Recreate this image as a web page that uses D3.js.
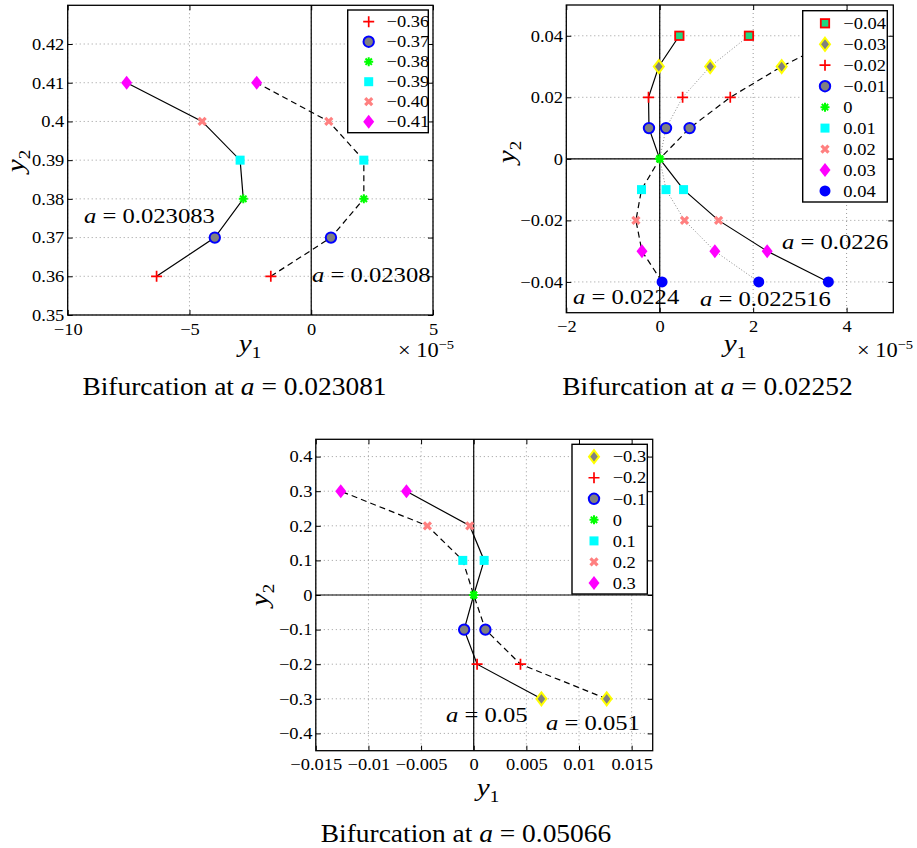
<!DOCTYPE html>
<html>
<head>
<meta charset="utf-8">
<script src="https://cdn.jsdelivr.net/npm/d3@7"></script>
<style>
body { margin: 0; background: #fff; }
text { font-family: "Liberation Serif", "Times New Roman", serif; fill: #000; }
</style>
</head>
<body>
<svg id="chart" width="917" height="848"></svg>
<script>
// ---- panel 1 : bifurcation at a = 0.023081 (y1 in units of 1e-5)
var p1Y = [0.36, 0.37, 0.38, 0.39, 0.40, 0.41];
var p1Names = ["−0.36", "−0.37", "−0.38", "−0.39", "−0.40", "−0.41"];
var p1Marks = ["plus", "circle", "star", "square", "cross", "diamond"];
var p1Solid = [-6.35, -3.96, -2.79, -2.92, -4.48, -7.58];   // a = 0.023083
var p1Dash  = [-1.66, 0.81, 2.16, 2.16, 0.72, -2.24];       // a = 0.02308
var p1XTicks = [-10, -5, 0, 5];
var p1YTicks = [0.35, 0.36, 0.37, 0.38, 0.39, 0.40, 0.41, 0.42];

// ---- panel 2 : bifurcation at a = 0.02252 (y1 in units of 1e-5)
var p2Y = [0.04, 0.03, 0.02, 0.01, 0, -0.01, -0.02, -0.03, -0.04];
var p2Names = ["−0.04", "−0.03", "−0.02", "−0.01", "0", "0.01", "0.02", "0.03", "0.04"];
var p2Marks = ["squareR", "diamondY", "plus", "circle", "star", "square", "cross", "diamond", "dot"];
var p2Solid  = [0.42, -0.02, -0.24, -0.23, 0, 0.51, 1.26, 2.30, 3.61];   // a = 0.0226
var p2Dotted = [1.91, 1.08, 0.49, 0.135, 0, 0.135, 0.53, 1.18, 2.12];   // a = 0.022516
var p2Dash   = [3.9, 2.61, 1.51, 0.64, 0, -0.39, -0.51, -0.38, 0.05];   // a = 0.0224
var p2XTicks = [-2, 0, 2, 4];
var p2YTicks = [-0.04, -0.02, 0, 0.02, 0.04];

// ---- panel 3 : bifurcation at a = 0.05066
var p3Y = [-0.3, -0.2, -0.1, 0, 0.1, 0.2, 0.3];
var p3Names = ["−0.3", "−0.2", "−0.1", "0", "0.1", "0.2", "0.3"];
var p3Marks = ["diamondY", "plus", "circle", "star", "square", "cross", "diamond"];
var p3Solid = [0.00643, 0.00032, -0.00091, 0, 0.00099, -0.00038, -0.00639];  // a = 0.05
var p3Dash  = [0.01263, 0.00444, 0.00111, 0, -0.00104, -0.0044, -0.01263];   // a = 0.051
var p3XTicks = [-0.015, -0.01, -0.005, 0, 0.005, 0.01, 0.015];
var p3YTicks = [-0.4, -0.3, -0.2, -0.1, 0, 0.1, 0.2, 0.3, 0.4];

var SX = 1.12; // the picture's text is a bit wider than the font
var svg = d3.select("#chart");

function mark(g, type, cx, cy) {
  var m = g.append("g").attr("transform", "translate(" + cx + "," + cy + ")");
  if (type == "plus") m.append("path").attr("d", "M-5.5,0H5.5M0,-5.5V5.5").attr("stroke", "#ff0000").attr("stroke-width", 1.7).attr("fill", "none");
  if (type == "circle") m.append("circle").attr("r", 5.2).attr("fill", "#808080").attr("stroke", "#0000ff").attr("stroke-width", 2);
  if (type == "dot") m.append("circle").attr("r", 5.5).attr("fill", "#0000ff");
  if (type == "star") m.append("path").attr("d", "M-4.5,0H4.5M0,-4.5V4.5M-3.2,-3.2L3.2,3.2M-3.2,3.2L3.2,-3.2").attr("stroke", "#00ff00").attr("stroke-width", 2).attr("fill", "none");
  if (type == "square") m.append("rect").attr("x", -4.5).attr("y", -4.5).attr("width", 9).attr("height", 9).attr("fill", "#00ffff");
  if (type == "squareR") m.append("rect").attr("x", -4.2).attr("y", -4.2).attr("width", 8.4).attr("height", 8.4).attr("fill", "#20d880").attr("stroke", "#ff0000").attr("stroke-width", 1.8);
  if (type == "cross") m.append("path").attr("d", "M-3.5,-3.5L3.5,3.5M-3.5,3.5L3.5,-3.5").attr("stroke", "#ff8080").attr("stroke-width", 3.2).attr("fill", "none");
  if (type == "diamond") m.append("path").attr("d", "M0,-7L5.5,0L0,7L-5.5,0Z").attr("fill", "#ff00ff");
  if (type == "diamondY") m.append("path").attr("d", "M0,-6.5L5,0L0,6.5L-5,0Z").attr("fill", "#808080").attr("stroke", "#ffff00").attr("stroke-width", 2);
}

function label(g, x, y, parts, size, anchor) {
  var t = g.append("text")
    .attr("transform", "translate(" + x + "," + y + ") scale(" + SX + ",1)")
    .attr("text-anchor", anchor || "start")
    .style("font-size", size + "px");
  parts.forEach(function (p) {
    t.append("tspan").text(p[0]).style("font-style", p[1] ? "italic" : null);
  });
  return t;
}

function axisLabel(g, x, y, sub, rotate) {
  var t = g.append("text")
    .attr("transform", "translate(" + x + "," + y + ")" + (rotate ? " rotate(-90)" : "") + " scale(" + SX + ",1)")
    .attr("text-anchor", "middle")
    .style("font-size", "26px");
  t.append("tspan").text("y").style("font-style", "italic");
  t.append("tspan").text(sub).attr("dy", 6).style("font-size", "17px");
}

function power(g, x, y) {
  var t = g.append("text")
    .attr("transform", "translate(" + x + "," + y + ") scale(" + SX + ",1)")
    .style("font-size", "20px");
  t.append("tspan").text("× 10");
  t.append("tspan").text("−5").attr("dy", -8).style("font-size", "13px");
}

function fixAxis(sel) {
  sel.select(".domain").remove();
  sel.selectAll("line").attr("stroke", "#000");
  sel.selectAll("text").style("font-size", "16.5px").attr("transform", "scale(" + SX + ",1)");
}

function panel(c) {
  var g = svg.append("g");
  var x = d3.scaleLinear().domain(c.xDom).range([c.l, c.r]);
  var y = d3.scaleLinear().domain(c.yDom).range([c.b, c.t]);

  // dotted grid
  g.append("g").selectAll("line").data(c.xTicks).join("line")
    .attr("x1", function (d) { return x(d); }).attr("x2", function (d) { return x(d); })
    .attr("y1", c.t).attr("y2", c.b)
    .attr("stroke", "#9a9a9a").attr("stroke-dasharray", "1,3");
  g.append("g").selectAll("line").data(c.yTicks).join("line")
    .attr("y1", function (d) { return y(d); }).attr("y2", function (d) { return y(d); })
    .attr("x1", c.l).attr("x2", c.r)
    .attr("stroke", "#9a9a9a").attr("stroke-dasharray", "1,3");

  // zero lines
  g.append("line").attr("x1", x(0)).attr("x2", x(0)).attr("y1", c.t).attr("y2", c.b).attr("stroke", "#000").attr("stroke-width", 1.2);
  if (c.zeroY) g.append("line").attr("y1", y(0)).attr("y2", y(0)).attr("x1", c.l).attr("x2", c.r).attr("stroke", "#000").attr("stroke-width", 1.2);

  var line = d3.line().x(function (d) { return x(d[0]); }).y(function (d) { return y(d[1]); });
  c.curves.forEach(function (s) {
    var pts = s.x.map(function (v, i) { return [v, c.yv[i]]; });
    g.append("path").attr("d", line(pts)).attr("fill", "none")
      .attr("stroke", s.color).attr("stroke-width", s.w).attr("stroke-dasharray", s.dash);
  });
  c.curves.forEach(function (s) {
    s.x.forEach(function (v, i) { mark(g, c.marks[i], x(v), y(c.yv[i])); });
  });

  c.notes.forEach(function (n) {
    label(g, n[0], n[1], [["a", true], [" = " + n[2], false]], 22);
  });

  // box and inward ticks on four sides
  g.append("rect").attr("x", c.l).attr("y", c.t).attr("width", c.r - c.l).attr("height", c.b - c.t)
    .attr("fill", "none").attr("stroke", "#000").attr("stroke-width", 1.3);
  var fmt = d3.format("~g");
  g.append("g").attr("transform", "translate(0," + c.b + ")")
    .call(d3.axisBottom(x).tickValues(c.xTicks).tickFormat(fmt).tickSizeInner(-5).tickSizeOuter(0).tickPadding(8)).call(fixAxis);
  g.append("g").attr("transform", "translate(0," + c.t + ")")
    .call(d3.axisTop(x).tickValues(c.xTicks).tickFormat("").tickSizeInner(-5).tickSizeOuter(0)).call(fixAxis);
  g.append("g").attr("transform", "translate(" + c.l + ",0)")
    .call(d3.axisLeft(y).tickValues(c.yTicks).tickFormat(fmt).tickSizeInner(-5).tickSizeOuter(0).tickPadding(3)).call(fixAxis);
  g.append("g").attr("transform", "translate(" + c.r + ",0)")
    .call(d3.axisRight(y).tickValues(c.yTicks).tickFormat("").tickSizeInner(-5).tickSizeOuter(0)).call(fixAxis);

  // legend
  var L = c.legend;
  g.append("rect").attr("x", L.x).attr("y", L.y).attr("width", L.w).attr("height", L.h)
    .attr("fill", "#fff").attr("stroke", "#000").attr("stroke-width", 1.4);
  c.names.forEach(function (nm, i) {
    var ey = L.first + i * L.step;
    mark(g, c.marks[i], L.mx, ey);
    label(g, L.tx, ey + 5.7, [[nm, false]], 16.5);
  });

  axisLabel(g, c.xl[0], c.xl[1], "1", false);
  axisLabel(g, c.yl[0], c.yl[1], "2", true);
  if (c.pow) power(g, c.pow[0], c.pow[1]);
  label(g, c.title[0], c.title[1], [["Bifurcation at ", false], ["a", true], [" = " + c.title[2], false]], 24.5, "middle");
}

panel({
  l: 67.7, r: 433, t: 5.3, b: 315,
  xDom: [-10, 5], yDom: [0.35, 0.43], xTicks: p1XTicks, yTicks: p1YTicks,
  yv: p1Y, marks: p1Marks, names: p1Names, zeroY: false,
  curves: [
    { x: p1Solid, color: "#000", w: 1.2, dash: null },
    { x: p1Dash, color: "#000", w: 1.2, dash: "6,4" }
  ],
  notes: [[84, 223, "0.023083"], [312, 282, "0.02308"]],
  legend: { x: 347.7, y: 10, w: 80.6, h: 122.7, first: 21.7, step: 20, mx: 368.7, tx: 386.5 },
  xl: [250, 352], yl: [24, 161], pow: [398, 357],
  title: [234.5, 395, "0.023081"]
});

panel({
  l: 566.3, r: 893.3, t: 5, b: 312.7,
  xDom: [-2, 5], yDom: [-0.05, 0.05], xTicks: p2XTicks, yTicks: p2YTicks,
  yv: p2Y, marks: p2Marks, names: p2Names, zeroY: true,
  curves: [
    { x: p2Solid, color: "#000", w: 1.2, dash: null },
    { x: p2Dotted, color: "#8a8a8a", w: 1, dash: "1,2" },
    { x: p2Dash, color: "#000", w: 1.2, dash: "6,4" }
  ],
  notes: [[782, 249, "0.0226"], [573, 304, "0.0224"], [700, 306, "0.022516"]],
  legend: { x: 802.7, y: 10.7, w: 84.6, h: 191.3, first: 23.3, step: 20.96, mx: 825, tx: 843.3 },
  xl: [735, 352], yl: [515, 152], pow: [857, 357],
  title: [707.5, 395, "0.02252"]
});

panel({
  l: 315.8, r: 652.7, t: 439.3, b: 750.7,
  xDom: [-0.015, 0.017], yDom: [-0.45, 0.45], xTicks: p3XTicks, yTicks: p3YTicks,
  yv: p3Y, marks: p3Marks, names: p3Names, zeroY: true,
  curves: [
    { x: p3Solid, color: "#000", w: 1.2, dash: null },
    { x: p3Dash, color: "#000", w: 1.2, dash: "6,4" }
  ],
  notes: [[446, 721.5, "0.05"], [546, 730, "0.051"]],
  legend: { x: 572, y: 444.3, w: 75.3, h: 149.7, first: 456.7, step: 21.05, mx: 594, tx: 612.7 },
  xl: [488, 796], yl: [268, 595], pow: null,
  title: [466, 842, "0.05066"]
});
</script>
</body>
</html>
